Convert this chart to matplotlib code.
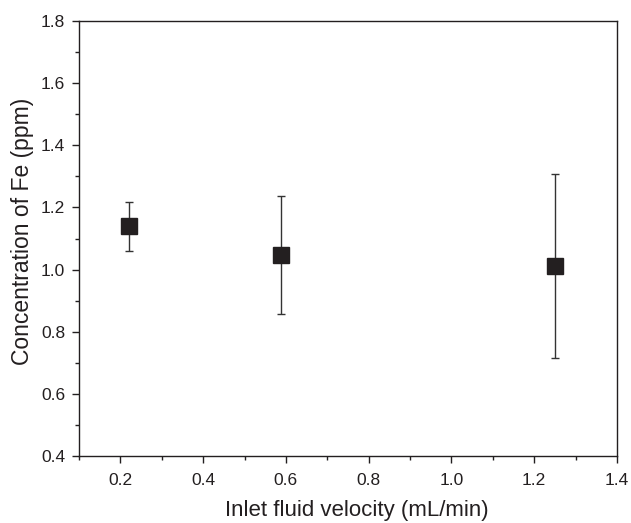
import matplotlib
matplotlib.use("Agg")
import matplotlib.pyplot as plt
from matplotlib.ticker import MultipleLocator

plt.rcParams['font.family'] = ['Liberation Sans', 'DejaVu Sans']

# data
velocity = [0.22, 0.587, 1.25]
fe_conc = [1.14, 1.047, 1.012]
err_low = [0.079, 0.191, 0.296]
err_high = [0.078, 0.190, 0.296]

fig = plt.figure(figsize=(6.31, 5.23), dpi=100)
ax = fig.add_axes([79 / 631, 1 - 456 / 523, (617 - 79) / 631, (456 - 21) / 523])

ax.errorbar(velocity, fe_conc, yerr=[err_low, err_high], fmt='s',
            color='#231f20', ecolor='#333333', elinewidth=1.0,
            capsize=3, capthick=1.0, markersize=11, linestyle='none')

ax.set_xlim(0.1, 1.4)
ax.set_ylim(0.4, 1.8)
ax.xaxis.set_major_locator(MultipleLocator(0.2))
ax.xaxis.set_minor_locator(MultipleLocator(0.1))
ax.yaxis.set_major_locator(MultipleLocator(0.2))
ax.yaxis.set_minor_locator(MultipleLocator(0.1))
ax.set_xticks([0.2, 0.4, 0.6, 0.8, 1.0, 1.2, 1.4])
ax.set_xticklabels(['0.2', '0.4', '0.6', '0.8', '1.0', '1.2', '1.4'])

ax.tick_params(which='both', direction='out', top=False, right=False,
               colors='#231f20', labelcolor='#231f20')
ax.tick_params(which='major', length=5, width=1, labelsize=12.5)
ax.tick_params(which='minor', length=3, width=1)
ax.tick_params(axis='x', which='major', pad=7)
ax.tick_params(axis='y', which='major', pad=5)
for s in ax.spines.values():
    s.set_linewidth(1.0)
    s.set_color('#231f20')

ax.set_xlabel('Inlet fluid velocity (mL/min)', fontsize=16, color='#231f20')
ax.set_ylabel('Concentration of Fe (ppm)', fontsize=16.5, color='#231f20')
ax.xaxis.set_label_coords(0.517, -44 / 435, transform=ax.transAxes)
ax.yaxis.set_label_coords(-45 / 538, 0.517, transform=ax.transAxes)

fig.savefig('out.png', dpi=100)
